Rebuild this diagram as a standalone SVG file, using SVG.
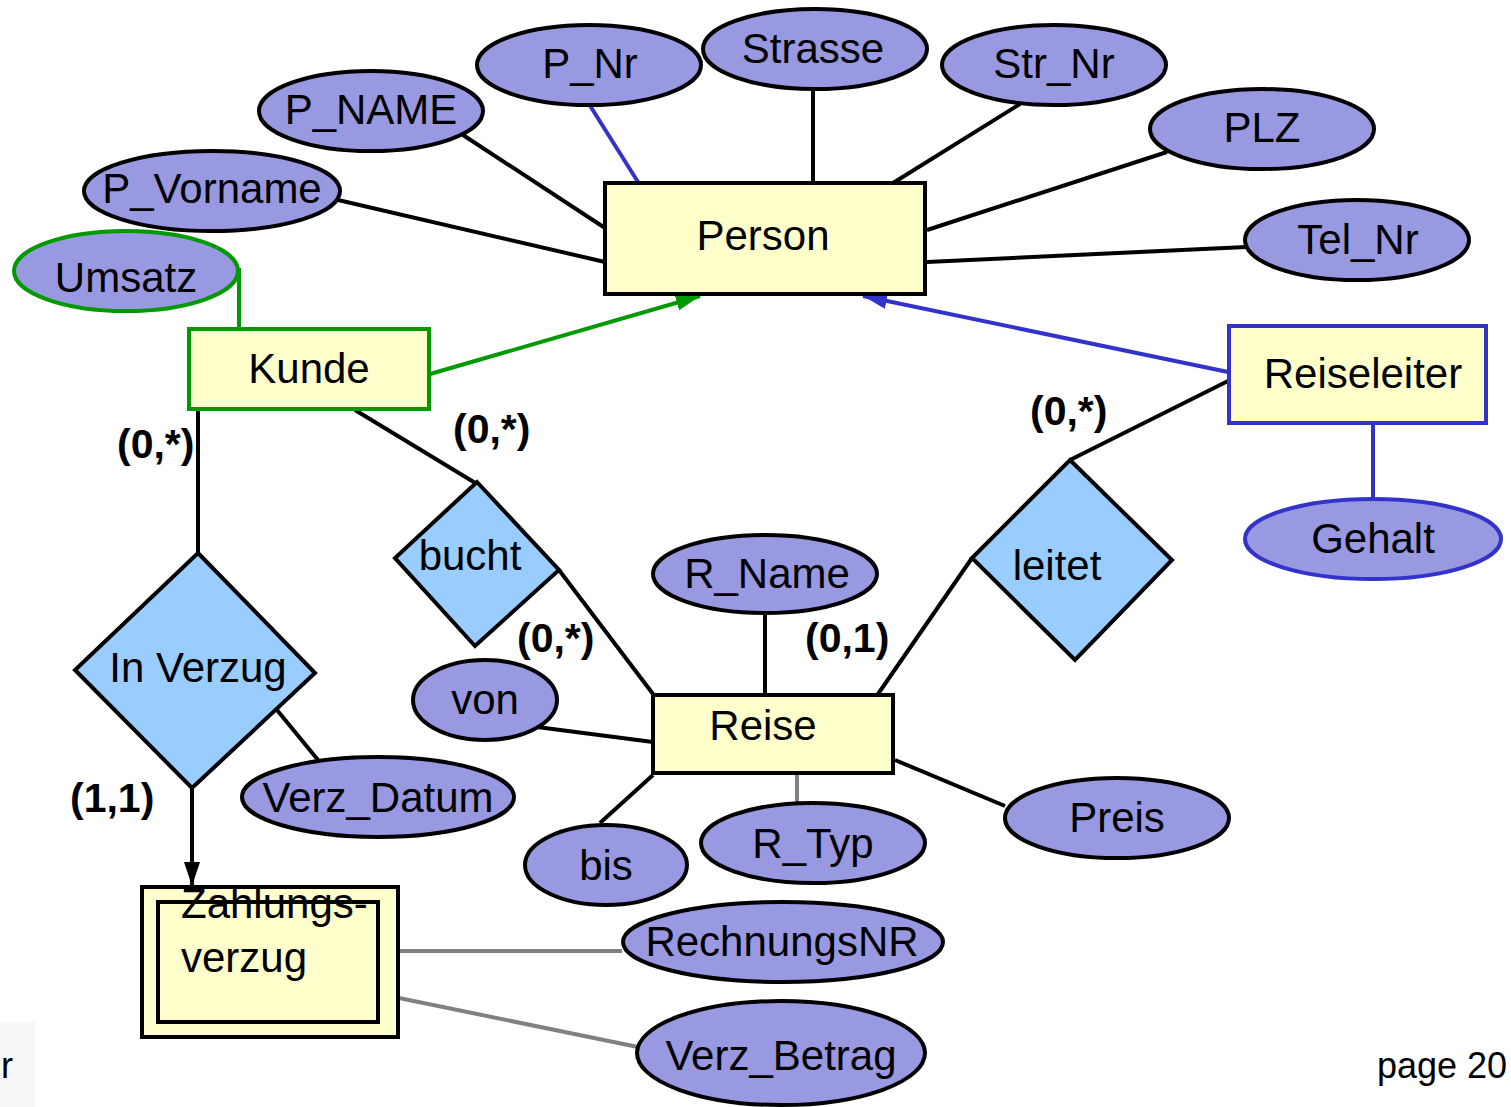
<svg xmlns="http://www.w3.org/2000/svg" width="1511" height="1107" viewBox="0 0 1511 1107">
<style>
text{font-family:"Liberation Sans",Arial,sans-serif;font-size:42px;fill:#000}
.c{text-anchor:middle}
.card{font-weight:bold;font-size:41px}
.attr{fill:#9999e2;stroke:#000;stroke-width:4}
.ent{fill:#ffffcc;stroke:#000;stroke-width:4}
.rel{fill:#99ccff;stroke:#000;stroke-width:4}
.ln{stroke:#000;stroke-width:4;fill:none}
.gr{stroke:#808080;stroke-width:4;fill:none}
.grn{stroke:#009900;stroke-width:4;fill:none}
.blu{stroke:#3333cc;stroke-width:4;fill:none}
</style>
<defs>
<marker id="ahG" markerUnits="userSpaceOnUse" markerWidth="26" markerHeight="20" refX="24" refY="10" orient="auto"><path d="M0,2 L24,10 L0,18 z" fill="#009900"/></marker>
<marker id="ahB" markerUnits="userSpaceOnUse" markerWidth="26" markerHeight="20" refX="24" refY="10" orient="auto"><path d="M0,2 L24,10 L0,18 z" fill="#3333cc"/></marker>
<marker id="ahK" markerUnits="userSpaceOnUse" markerWidth="26" markerHeight="20" refX="24" refY="10" orient="auto"><path d="M0,2 L24,10 L0,18 z" fill="#000"/></marker>
</defs>
<rect x="0" y="1022" width="35" height="85" fill="#f7f7f7"/>
<text x="1" y="1078" style="font-size:36px">r</text>
<text x="1377" y="1078" style="font-size:36px">page 20</text>
<g id="connectors">
<line class="ln" x1="338" y1="200" x2="605" y2="262"/>
<line class="ln" x1="463" y1="135" x2="605" y2="228"/>
<line class="blu" x1="589" y1="104" x2="638" y2="182"/>
<line class="ln" x1="813" y1="90" x2="813" y2="183"/>
<line class="ln" x1="1020" y1="104" x2="893" y2="183"/>
<line class="ln" x1="1167" y1="152" x2="927" y2="230"/>
<line class="ln" x1="1246" y1="247" x2="927" y2="262"/>
<polyline class="grn" points="239,268 239,328"/>
<line class="grn" x1="430" y1="374" x2="700" y2="296" marker-end="url(#ahG)"/>
<line class="blu" x1="1228" y1="372" x2="863" y2="296" marker-end="url(#ahB)"/>
<line class="blu" x1="1373" y1="423" x2="1373" y2="500"/>
<line class="ln" x1="1070" y1="460" x2="1228" y2="381"/>
<line class="ln" x1="972" y1="558" x2="878" y2="694"/>
<line class="ln" x1="355" y1="410" x2="477" y2="484"/>
<line class="ln" x1="559" y1="570" x2="653" y2="694"/>
<line class="ln" x1="198" y1="410" x2="198" y2="553"/>
<line class="ln" x1="192" y1="788" x2="192" y2="886" marker-end="url(#ahK)"/>
<line class="ln" x1="277" y1="710" x2="318" y2="760"/>
<line class="ln" x1="765" y1="613" x2="765" y2="695"/>
<line class="ln" x1="537" y1="727" x2="653" y2="742"/>
<line class="ln" x1="600" y1="823" x2="653" y2="775"/>
<line class="gr" x1="797" y1="775" x2="797" y2="805"/>
<line class="ln" x1="895" y1="760" x2="1005" y2="806"/>
<line class="gr" x1="399" y1="951" x2="622" y2="951"/>
<line class="gr" x1="399" y1="998" x2="638" y2="1047"/>
</g>
<g id="cardinalities">
<text class="card" x="117" y="458">(0,*)</text>
<text class="card" x="453" y="443">(0,*)</text>
<text class="card" x="517" y="652">(0,*)</text>
<text class="card" x="805" y="652">(0,1)</text>
<text class="card" x="1030" y="425">(0,*)</text>
<text class="card" x="70" y="812">(1,1)</text>
</g>
<g id="Person"><rect class="ent" x="605" y="183" width="320" height="111"/><text class="c" x="763" y="250">Person</text></g>
<g id="P_Vorname"><ellipse class="attr" cx="212" cy="191" rx="128" ry="40"/><text class="c" x="212" y="203">P_Vorname</text></g>
<g id="P_NAME"><ellipse class="attr" cx="371" cy="111" rx="112" ry="40"/><text class="c" x="371" y="124">P_NAME</text></g>
<g id="P_Nr"><ellipse class="attr" cx="589" cy="65" rx="112" ry="40"/><text class="c" x="590" y="78">P_Nr</text></g>
<g id="Strasse"><ellipse class="attr" cx="815" cy="49" rx="112" ry="40"/><text class="c" x="813" y="63">Strasse</text></g>
<g id="Str_Nr"><ellipse class="attr" cx="1054" cy="65" rx="112" ry="40"/><text class="c" x="1054" y="78">Str_Nr</text></g>
<g id="PLZ"><ellipse class="attr" cx="1262" cy="129" rx="112" ry="40"/><text class="c" x="1262" y="142">PLZ</text></g>
<g id="Tel_Nr"><ellipse class="attr" cx="1357" cy="240" rx="112" ry="40"/><text class="c" x="1358" y="254">Tel_Nr</text></g>
<g id="Umsatz"><ellipse class="attr" style="stroke:#009900" cx="126" cy="271" rx="112" ry="40"/><text class="c" x="126" y="292">Umsatz</text></g>
<g id="Kunde"><rect class="ent" style="stroke:#009900" x="189" y="329" width="240" height="80"/><text class="c" x="309" y="383">Kunde</text></g>
<g id="Reiseleiter"><rect class="ent" style="stroke:#3333cc" x="1229" y="326" width="257" height="97"/><text class="c" x="1363" y="388">Reiseleiter</text></g>
<g id="Gehalt"><ellipse class="attr" style="stroke:#3333cc" cx="1373" cy="539" rx="128" ry="40"/><text class="c" x="1373" y="553">Gehalt</text></g>
<g id="leitet"><polygon class="rel" points="1070,460 1172,560 1075,660 972,558"/><text class="c" x="1057" y="580">leitet</text></g>
<g id="bucht"><polygon class="rel" points="477,482 559,570 475,646 395,558"/><text class="c" x="470" y="570">bucht</text></g>
<g id="In_Verzug"><polygon class="rel" points="198,553 315,673 192,788 75,670"/><text class="c" x="198" y="682">In Verzug</text></g>
<g id="Reise"><rect class="ent" x="653" y="695" width="240" height="78"/><text class="c" x="763" y="740">Reise</text></g>
<g id="R_Name"><ellipse class="attr" cx="765" cy="574" rx="112" ry="39"/><text class="c" x="767" y="588">R_Name</text></g>
<g id="von"><ellipse class="attr" cx="485" cy="700" rx="72" ry="40"/><text class="c" x="485" y="714">von</text></g>
<g id="bis"><ellipse class="attr" cx="606" cy="865" rx="81" ry="40"/><text class="c" x="606" y="880">bis</text></g>
<g id="R_Typ"><ellipse class="attr" cx="813" cy="843" rx="112" ry="40"/><text class="c" x="813" y="858">R_Typ</text></g>
<g id="Preis"><ellipse class="attr" cx="1117" cy="818" rx="112" ry="40"/><text class="c" x="1117" y="832">Preis</text></g>
<g id="Verz_Datum"><ellipse class="attr" cx="378" cy="797" rx="136" ry="40"/><text class="c" x="378" y="812">Verz_Datum</text></g>
<g id="Zahlungsverzug"><rect class="ent" x="142" y="887" width="256" height="150"/><rect class="ent" x="158" y="902" width="220" height="120"/><text x="181" y="918">Zahlungs-</text><text x="181" y="972">verzug</text></g>
<g id="RechnungsNR"><ellipse class="attr" cx="783" cy="942" rx="160" ry="40"/><text class="c" x="782" y="956">RechnungsNR</text></g>
<g id="Verz_Betrag"><ellipse class="attr" cx="781" cy="1053" rx="144" ry="52"/><text class="c" x="781" y="1070">Verz_Betrag</text></g>
</svg>
